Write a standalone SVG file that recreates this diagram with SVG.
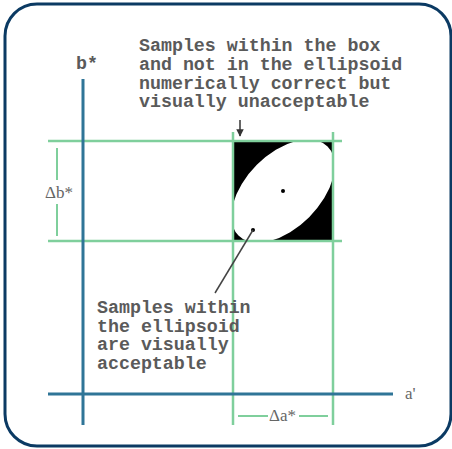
<svg xmlns="http://www.w3.org/2000/svg" width="452" height="449" viewBox="0 0 452 449">
  <style>
    .mono { font-family: "Liberation Mono", "Courier New", monospace; font-size: 18.3px; fill: #5a5a5a; font-weight: bold; }
    .serif { font-family: "Liberation Serif", "Times New Roman", serif; font-size: 17px; fill: #666; }
    .axis { stroke: #2f7597; stroke-width: 3; fill: none; }
    .grn { stroke: #7fcf9c; stroke-width: 2.5; fill: none; }
    .dim { stroke: #7fcf9c; stroke-width: 2; fill: none; }
  </style>
  <defs>
    <marker id="ah" viewBox="0 0 10 10" refX="9" refY="5" markerWidth="5" markerHeight="5" orient="auto">
      <path d="M0,0 L10,5 L0,10 z" fill="#333"/>
    </marker>
    <clipPath id="boxclip"><rect x="233" y="141" width="100" height="100"/></clipPath>
  </defs>
  <rect id="frame" x="5" y="4" width="446" height="442" rx="32" ry="32" fill="#fff" stroke="#0b3a63" stroke-width="3"/>

  <g id="box">
    <rect x="233" y="141" width="100" height="100" fill="#000"/>
    <g clip-path="url(#boxclip)">
      <ellipse cx="283" cy="191" rx="63" ry="37" transform="rotate(-45 283 191)" fill="#fff"/>
    </g>
    <circle cx="283" cy="191" r="2" fill="#000"/>
    <circle cx="253" cy="230" r="2" fill="#000"/>
  </g>

  <g id="guides">
    <line class="grn" x1="48" y1="141" x2="342" y2="141"/>
    <line class="grn" x1="48" y1="241" x2="342" y2="241"/>
    <line class="grn" x1="233" y1="132" x2="233" y2="425"/>
    <line class="grn" x1="333" y1="132" x2="333" y2="425"/>
  </g>

  <g id="axes">
    <line class="axis" x1="83" y1="79" x2="83" y2="425"/>
    <line class="axis" x1="48" y1="394" x2="393" y2="394" stroke="#1f5f80"/>
  </g>

  <g id="dimensions">
    <line class="dim" x1="57" y1="148" x2="57" y2="180"/>
    <line class="dim" x1="57" y1="204" x2="57" y2="236"/>
    <line class="dim" x1="238" y1="416" x2="268" y2="416"/>
    <line class="dim" x1="299" y1="416" x2="328" y2="416"/>
  </g>

  <g id="connectors">
    <line x1="240" y1="120" x2="240" y2="136" stroke="#333" stroke-width="1.5" marker-end="url(#ah)"/>
    <line x1="253" y1="230" x2="215" y2="293" stroke="#444" stroke-width="1.5"/>
  </g>

  <g id="labels">
    <text class="mono" x="76" y="69">b*</text>
    <text class="serif" x="405" y="399" font-size="14">a'</text>
    <text class="serif" x="45" y="198">Δb*</text>
    <text class="serif" x="269" y="421">Δa*</text>
  </g>

  <g id="note-top">
    <text class="mono" x="139" y="51">Samples within the box</text>
    <text class="mono" x="139" y="70">and not in the ellipsoid</text>
    <text class="mono" x="139" y="88.5">numerically correct but</text>
    <text class="mono" x="139" y="107">visually unacceptable</text>
  </g>

  <g id="note-bottom">
    <text class="mono" x="97" y="313">Samples within</text>
    <text class="mono" x="97" y="331.5">the ellipsoid</text>
    <text class="mono" x="97" y="350">are visually</text>
    <text class="mono" x="97" y="368.5">acceptable</text>
  </g>
</svg>
